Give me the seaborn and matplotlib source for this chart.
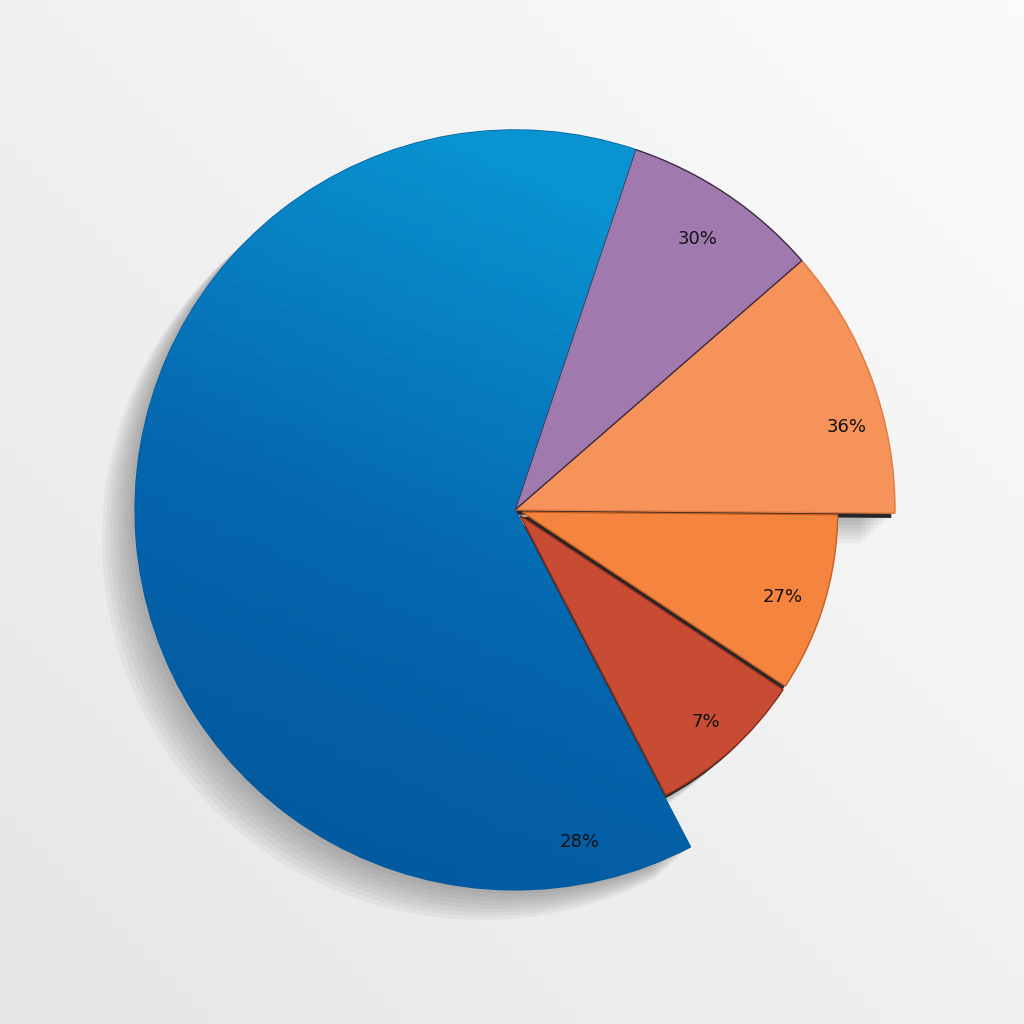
import numpy as np
import seaborn as sns
import matplotlib.pyplot as plt
from matplotlib.patches import Shadow
from matplotlib.colors import LinearSegmentedColormap

# slice sizes (degrees, counterclockwise from the top-right edge)
slices = ["blue", "red", "orange", "light orange", "purple"]
sizes = [226, 29, 33, 41.5, 30.5]
labels = ["28%", "7%", "27%", "36%", "30%"]
colors = ["#0569b0", "#c84c33", "#f5843f", "#f5935a", "#a07aaf"]
edges = ["#045a98", "#8a2e1a", "#c45f22", "#e07a40", "#3a2a40"]

# label placement (angle in degrees, distance from centre in radius units)
label_angle = [-79, -48, -18, 14, 56]
label_dist = [0.89, 0.75, 0.74, 0.90, 0.86]


def draw_pie():
    sns.set_theme(style="white")
    plt.rcParams["font.family"] = ["DejaVu Sans"]

    fig = plt.figure(figsize=(10.24, 10.24), dpi=100)
    fig.patch.set_facecolor("#eeeeee")
    ax = fig.add_axes([0, 0, 1, 1])
    ax.set_facecolor("#eeeeee")

    xlim = (-1.355, 1.339)
    ylim = (-1.353, 1.342)

    # light background gradient, brighter to the upper right
    gx, gy = np.meshgrid(np.linspace(0, 1, 64), np.linspace(0, 1, 64))
    bg = LinearSegmentedColormap.from_list("bg", ["#e6e6e6", "#fbfbfb"])
    ax.imshow((gx + gy) / 2, cmap=bg, extent=(*xlim, *ylim), origin="lower",
              zorder=0, aspect="auto")

    wedges, _ = ax.pie(sizes, colors=colors, startangle=71.5, counterclock=True,
                       explode=[0, 0.02, 0.02, 0, 0],
                       wedgeprops=dict(linewidth=1.0))
    for w, ec, name in zip(wedges, edges, slices):
        w.set_edgecolor(ec)
        w.set_zorder(2)
        if name in ("red", "orange"):
            w.set_radius(0.83)

    # soft shadow following each slice, cast to the lower left
    for w in wedges:
        for k in range(8):
            off = 0.008 + 0.007 * k
            sh = Shadow(w, -off * 1.1, -off, zorder=1)
            sh.set_facecolor("#3a3a3a")
            sh.set_edgecolor("none")
            sh.set_alpha(0.05)
            ax.add_patch(sh)

    # dark slits between the cut-out slices
    for name in ("red", "orange", "light orange"):
        sh = Shadow(wedges[slices.index(name)], -0.007, -0.009, zorder=1.5)
        sh.set_facecolor("#15151a")
        sh.set_edgecolor("none")
        sh.set_alpha(0.9)
        ax.add_patch(sh)

    # shading on the big blue slice
    blue = wedges[slices.index("blue")]
    shade = LinearSegmentedColormap.from_list("shade", ["#03559c", "#0566ae", "#0993d0"])
    img = ax.imshow(np.clip((gx * 0.5 + gy * 1.1) / 1.3, 0, 1), cmap=shade,
                    extent=(-1, 1, -1, 1), origin="lower", zorder=2.5, aspect="auto")
    img.set_clip_path(blue)

    for lab, a, d in zip(labels, label_angle, label_dist):
        t = np.deg2rad(a)
        ax.text(d * np.cos(t), d * np.sin(t), lab, ha="center", va="center",
                fontsize=13, color="#111111", zorder=3)

    ax.set_xlim(*xlim)
    ax.set_ylim(*ylim)
    ax.set_aspect("equal")
    ax.axis("off")
    fig.savefig("out.png", dpi=100, facecolor=fig.get_facecolor())


if __name__ == "__main__":
    draw_pie()
